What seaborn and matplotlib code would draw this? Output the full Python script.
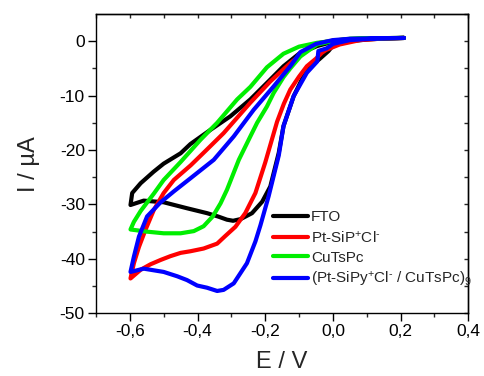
import numpy as np
import pandas as pd
import matplotlib
matplotlib.use("Agg")
import matplotlib.pyplot as plt
import seaborn as sns

# ---- data (E in V, I in µA), path order: forward scan then reverse scan ----
fto_E = [0.21, 0.15, 0.10, 0.05, 0.0, -0.013, -0.04, -0.067, -0.09, -0.116, -0.146, -0.16,
         -0.185, -0.209, -0.239, -0.273, -0.295, -0.313, -0.34, -0.372, -0.431, -0.5, -0.559, -0.598,
         -0.593, -0.568, -0.53, -0.5, -0.45, -0.421, -0.362, -0.303, -0.244, -0.185, -0.146, -0.1,
         -0.047, 0.0, 0.051, 0.13, 0.21]
fto_I = [0.6, 0.5, 0.3, 0.0, -0.8, -1.8, -3.3, -4.6, -6.8, -10.1, -15.6, -20.5,
         -26.7, -29.5, -31.6, -32.7, -33.0, -32.8, -32.2, -31.6, -30.7, -29.6, -29.3, -30.1,
         -27.9, -26.1, -24.0, -22.5, -20.6, -18.9, -16.3, -13.8, -10.7, -7.05, -4.6, -2.3,
         -0.9, -0.1, 0.3, 0.5, 0.6]

pt_E = [0.21, 0.15, 0.08, 0.02, -0.02, -0.032, -0.05, -0.077, -0.1, -0.126, -0.145, -0.165,
        -0.2, -0.229, -0.259, -0.288, -0.318, -0.342, -0.382, -0.421, -0.45, -0.48, -0.509, -0.539,
        -0.568, -0.598,
        -0.588, -0.573, -0.554, -0.529, -0.5, -0.47, -0.42, -0.377, -0.323, -0.244, -0.185, -0.126,
        -0.08, -0.047, 0.0, 0.05, 0.13, 0.21]
pt_I = [0.6, 0.5, 0.2, -0.6, -1.6, -2.1, -3.2, -4.6, -6.5, -8.9, -11.5, -14.8,
        -22.3, -27.9, -31.6, -34.1, -35.8, -37.2, -38.1, -38.6, -38.9, -39.5, -40.2, -41.0,
        -42.0, -43.6,
        -40.8, -37.8, -34.7, -31.0, -27.9, -25.5, -22.8, -20.2, -16.9, -11.3, -7.4, -4.0,
        -1.8, -0.4, 0.1, 0.4, 0.55, 0.6]

cu_E = [0.21, 0.13, 0.05, 0.0, -0.047, -0.096, -0.126, -0.146, -0.175, -0.195, -0.224, -0.244,
        -0.278, -0.313, -0.332, -0.355, -0.382, -0.411, -0.45, -0.5, -0.549, -0.598,
        -0.588, -0.568, -0.529, -0.5, -0.45, -0.391, -0.342, -0.283, -0.244, -0.195, -0.146, -0.1,
        -0.047, 0.05, 0.13, 0.21]
cu_I = [0.6, 0.55, 0.4, 0.0, -0.6, -2.8, -5.0, -6.6, -9.5, -12.0, -15.0, -17.5,
        -21.8, -27.3, -29.8, -32.2, -34.0, -34.9, -35.3, -35.3, -35.0, -34.6,
        -33.2, -31.2, -28.0, -25.5, -22.2, -18.1, -15.0, -10.7, -8.4, -4.8, -2.3, -1.0,
        -0.3, 0.45, 0.55, 0.6]

lb_E = [0.21, 0.13, 0.05, 0.0, -0.018, -0.043, -0.046, -0.077, -0.116, -0.146, -0.16, -0.19,
        -0.214, -0.229, -0.254, -0.293, -0.323, -0.342, -0.372, -0.401, -0.431, -0.46, -0.5, -0.559,
        -0.598,
        -0.588, -0.573, -0.549, -0.509, -0.47, -0.421, -0.352, -0.293, -0.234, -0.175, -0.126, -0.096,
        -0.05, 0.0, 0.05, 0.13, 0.21]
lb_I = [0.6, 0.5, 0.2, -0.5, -1.3, -1.8, -3.7, -5.8, -10.1, -15.6, -21.0, -28.5,
        -33.8, -36.8, -40.8, -44.5, -45.7, -45.9, -45.3, -44.9, -43.9, -43.2, -42.4, -41.8,
        -42.4,
        -39.6, -35.9, -32.2, -29.6, -27.6, -25.2, -21.8, -17.5, -12.6, -8.3, -4.6, -2.0,
        -0.5, 0.2, 0.45, 0.55, 0.6]

labels = ["FTO", "Pt-SiP$^{+}$Cl$^{\\text{-}}$", "CuTsPc",
          "(Pt-SiPy$^{+}$Cl$^{\\text{-}}$ / CuTsPc)$_{9}$"]
colors = ["#000000", "#ff0000", "#00ee00", "#0000ff"]

x_ticks = [-0.6, -0.4, -0.2, 0.0, 0.2, 0.4]
x_ticklabels = ["-0,6", "-0,4", "-0,2", "0,0", "0,2", "0,4"]
y_ticks = [0, -10, -20, -30, -40, -50]
y_ticklabels = ["0", "-10", "-20", "-30", "-40", "-50"]

frames = []
for lab, E, I in zip(labels, [fto_E, pt_E, cu_E, lb_E], [fto_I, pt_I, cu_I, lb_I]):
    frames.append(pd.DataFrame({"E": E, "I": I, "series": lab, "order": np.arange(len(E))}))
df = pd.concat(frames, ignore_index=True)

sns.set_theme(style="ticks")
plt.rcParams["font.family"] = ["Liberation Sans", "DejaVu Sans"]
plt.rcParams["mathtext.fontset"] = "custom"
plt.rcParams["mathtext.rm"] = "Liberation Sans"
plt.rcParams["mathtext.it"] = "Liberation Sans:italic"
plt.rcParams["mathtext.bf"] = "Liberation Sans:bold"

fig = plt.figure(figsize=(4.84, 3.76), dpi=100)
ax = fig.add_axes([0.1983, 0.1668, 0.7693, 0.796])

sns.lineplot(data=df, x="E", y="I", hue="series", hue_order=labels, palette=colors,
             sort=False, estimator=None, lw=3.0, ax=ax, legend=True)
for ln in ax.get_lines():
    ln.set_solid_joinstyle("round")
    ln.set_solid_capstyle("round")

ax.set_xlim(-0.7, 0.4)
ax.set_ylim(-50, 5)
ax.set_xticks(x_ticks, x_ticklabels)
ax.set_yticks(y_ticks, y_ticklabels)
ax.set_xticks(np.arange(-0.7, 0.41, 0.1), minor=True)
ax.set_yticks(np.arange(-45, 5, 10), minor=True)
ax.tick_params(which="major", direction="out", length=6, width=1.0, labelsize=12.5, pad=2,
               colors="black")
ax.tick_params(which="minor", direction="out", length=3, width=1.0)
for s in ax.spines.values():
    s.set_visible(True)
    s.set_linewidth(1.0)
    s.set_color("black")

sec_x = ax.secondary_xaxis("top")
sec_x.set_xticks(np.arange(-0.7, 0.41, 0.1))
sec_x.tick_params(direction="in", length=3, width=1.0, labeltop=False)
sec_x.spines["top"].set_linewidth(1.0)
sec_y = ax.secondary_yaxis("right")
sec_y.set_yticks(np.arange(-50, 6, 5))
sec_y.tick_params(direction="in", length=3, width=1.0, labelright=False)
sec_y.spines["right"].set_linewidth(1.0)

ax.set_xlabel("E / V", fontsize=17, labelpad=8)
ax.set_ylabel("I / µA", fontsize=17, labelpad=14)

handles, labs = ax.get_legend_handles_labels()
for h in handles:
    h.set_linewidth(3.0)
ax.legend(handles, labs, loc="upper left", bbox_to_anchor=(0.475, 0.345), frameon=False,
          fontsize=11, handlelength=2.3, handletextpad=0.2, labelspacing=0.35,
          borderpad=0, borderaxespad=0)

fig.savefig("out.png", dpi=100)
